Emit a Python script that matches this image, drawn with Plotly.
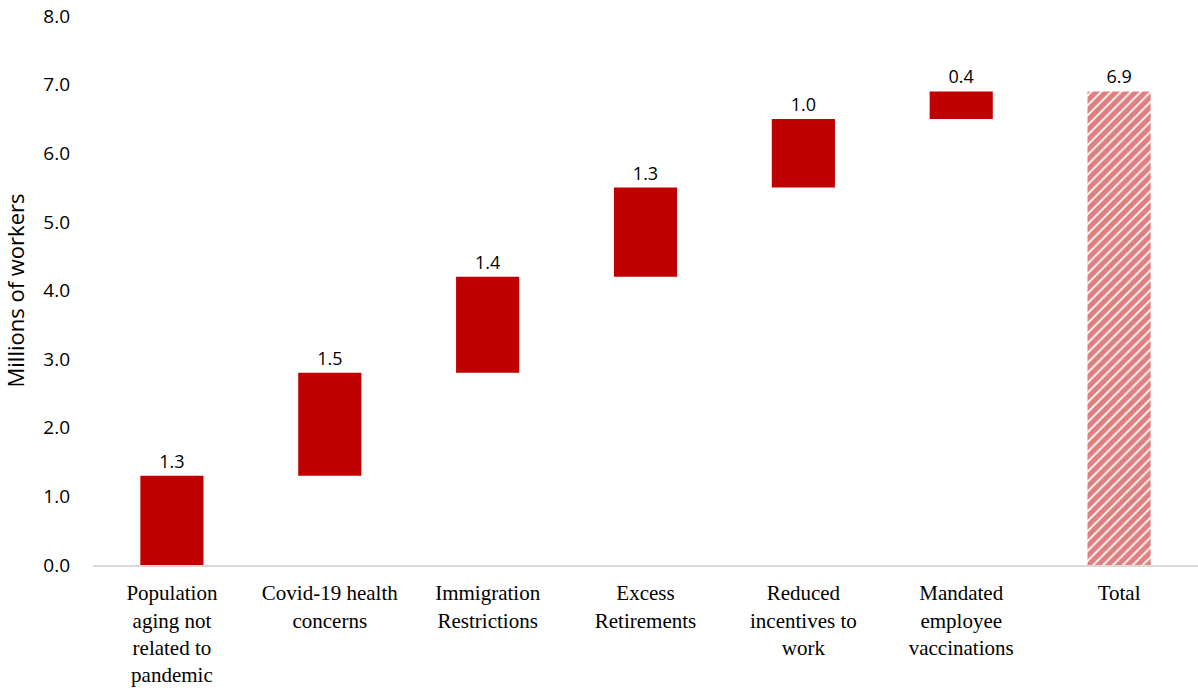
import plotly.graph_objects as go

# Contributions to the labour shortfall (millions of workers)
categories = [
    "Population<br>aging not<br>related to<br>pandemic",
    "Covid-19 health<br>concerns",
    "Immigration<br>Restrictions",
    "Excess<br>Retirements",
    "Reduced<br>incentives to<br>work",
    "Mandated<br>employee<br>vaccinations",
    "Total",
]
contributions = [1.3, 1.5, 1.4, 1.3, 1.0, 0.4]
total = 6.9
y_ticks = [0, 1, 2, 3, 4, 5, 6, 7, 8]

RED = "#C00000"

# running base for each floating bar
bases = []
running = 0.0
for v in contributions:
    bases.append(running)
    running += v

label_font = dict(family="Open Sans", size=18, color="#000000")

fig = go.Figure()

fig.add_trace(go.Bar(
    x=categories[:-1],
    y=contributions,
    base=bases,
    marker=dict(color=RED, line=dict(width=0)),
    text=[f"{v:.1f}" for v in contributions],
    textposition="outside",
    textfont=label_font,
    cliponaxis=False,
    width=0.4,
    hoverinfo="skip",
))

fig.add_trace(go.Bar(
    x=[categories[-1]],
    y=[total],
    base=[0],
    marker=dict(
        color="white",
        line=dict(width=0),
        pattern=dict(shape="/", fgcolor=RED, bgcolor="white", size=7, solidity=0.75),
    ),
    text=[f"{total:.1f}"],
    textposition="outside",
    textfont=label_font,
    cliponaxis=False,
    width=0.4,
    hoverinfo="skip",
))

fig.update_layout(
    width=1198,
    height=692,
    margin=dict(l=93, r=0, t=16, b=127),
    paper_bgcolor="white",
    plot_bgcolor="white",
    showlegend=False,
    barmode="overlay",
    xaxis=dict(
        categoryorder="array",
        categoryarray=categories,
        showline=True,
        linecolor="#D9D9D9",
        linewidth=2,
        ticks="",
        showgrid=False,
        ticklabelstandoff=8,
        tickfont=dict(family="Liberation Serif", size=21, color="#000000"),
    ),
    yaxis=dict(
        range=[0, 8],
        tickvals=y_ticks,
        tickformat=".1f",
        showgrid=False,
        zeroline=False,
        showline=False,
        ticks="",
        ticklabelstandoff=22,
        tickfont=dict(family="Open Sans", size=19, color="#000000"),
        title=dict(
            text="Millions of workers",
            font=dict(family="Open Sans", size=22, color="#000000"),
            standoff=12,
        ),
    ),
)

fig.write_html("out.html")
